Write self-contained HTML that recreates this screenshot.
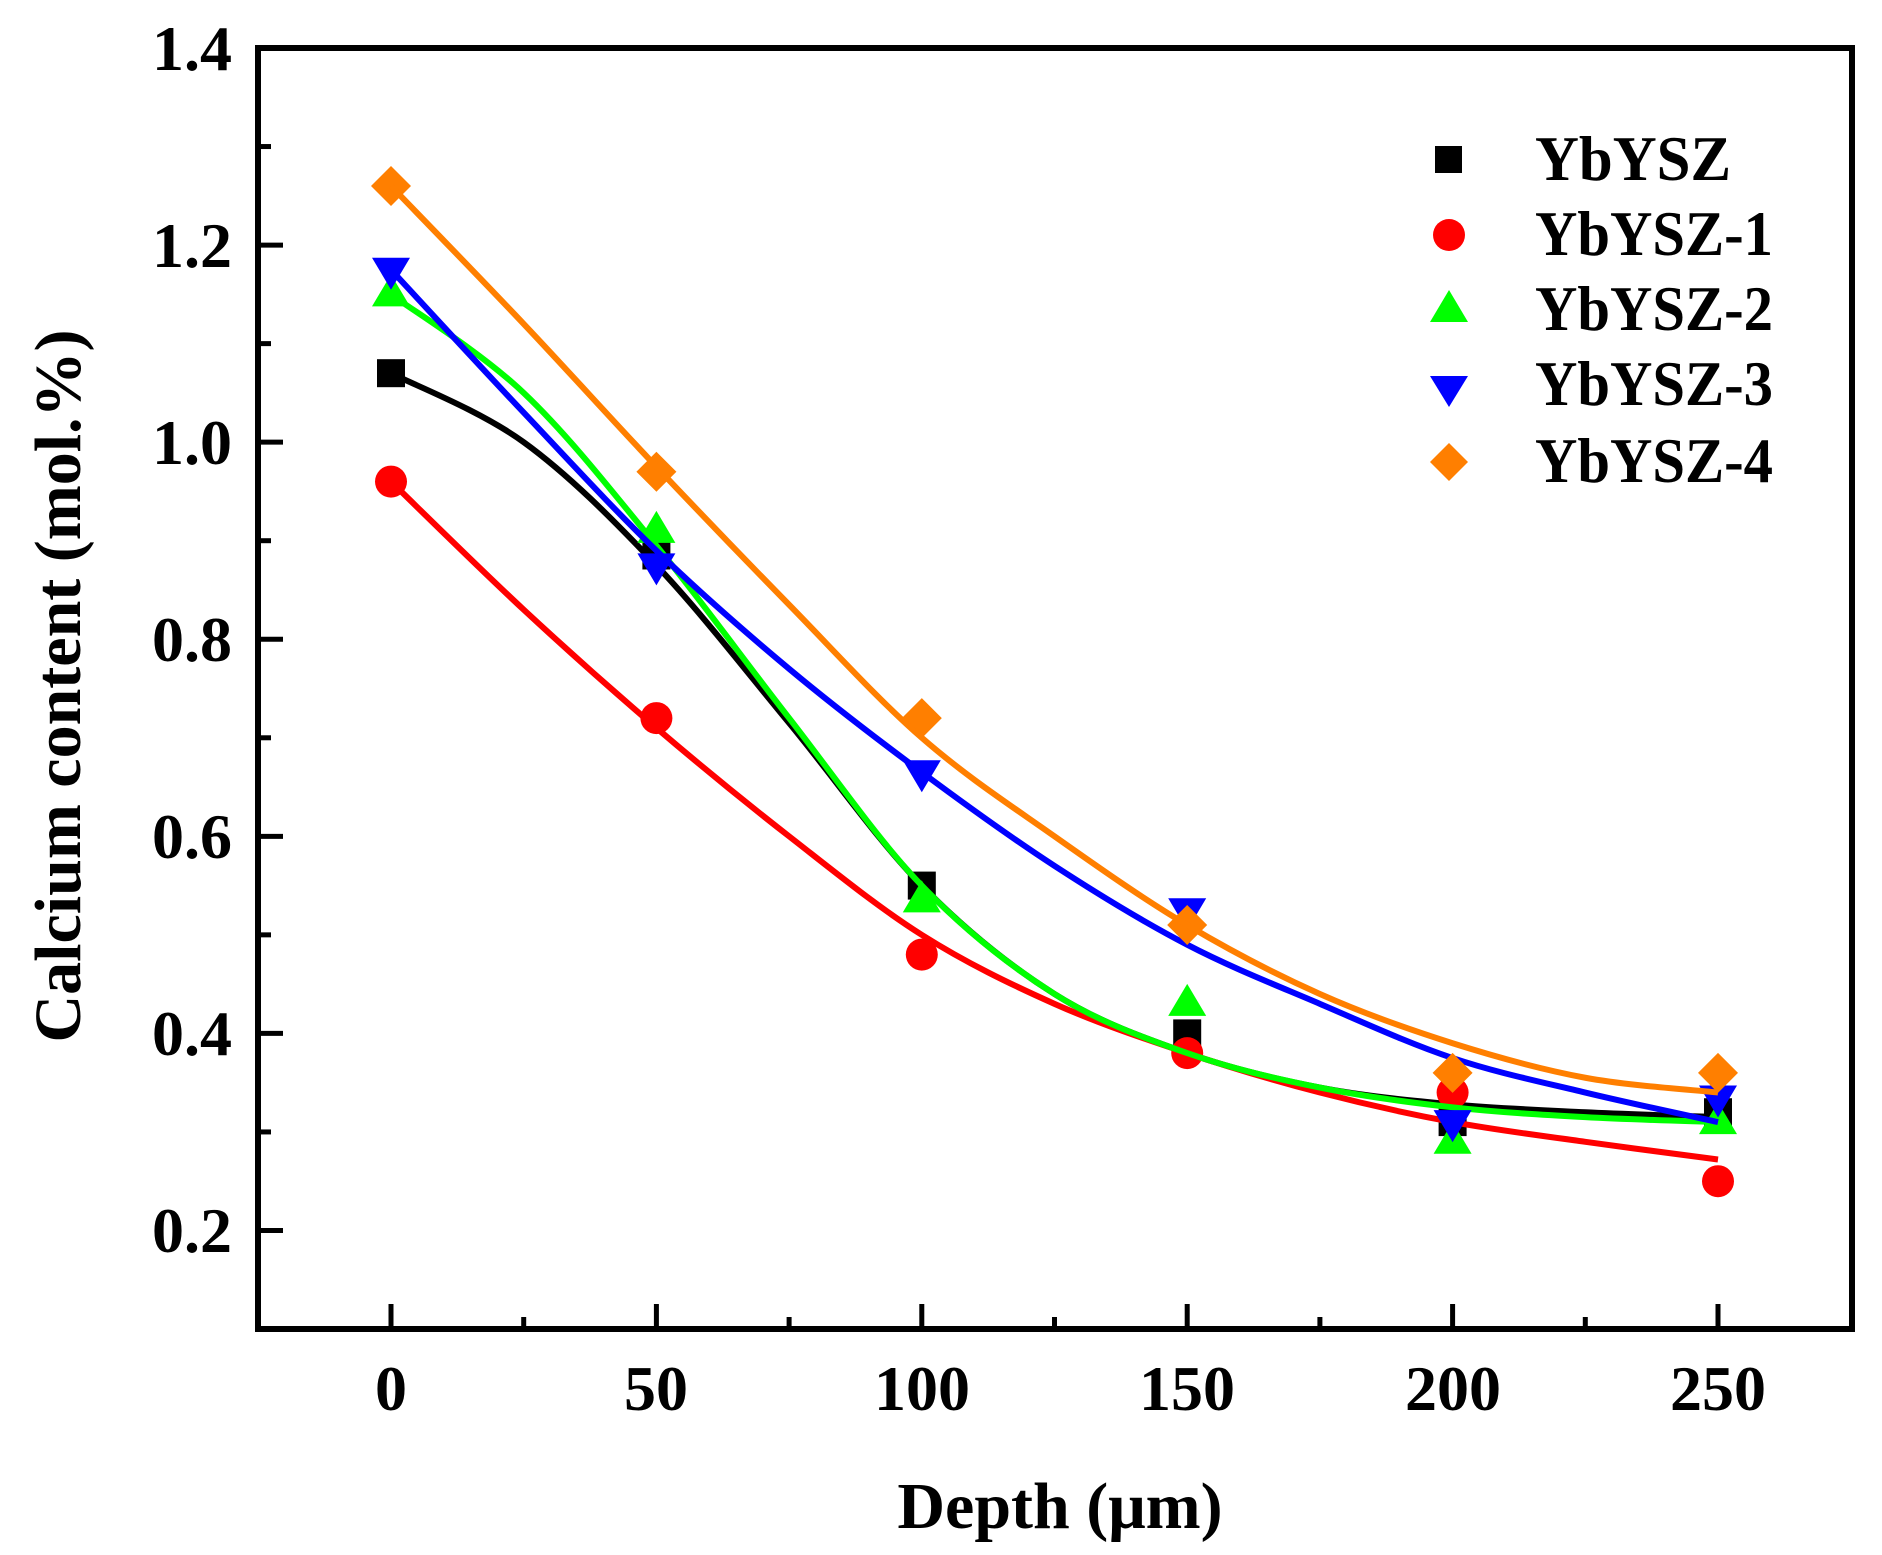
<!DOCTYPE html>
<html><head><meta charset="utf-8"><style>
html,body{margin:0;padding:0;background:#fff}
svg{display:block}
text{font-family:"Liberation Serif",serif;font-weight:bold;fill:#000}
</style></head><body>
<svg id="s" width="1882" height="1555" viewBox="0 0 1882 1555" xmlns="http://www.w3.org/2000/svg">
<rect width="1882" height="1555" fill="#fff"/>
<g id="plot"></g>
<rect x="258" y="48" width="1594" height="1281" fill="none" stroke="#000" stroke-width="6"/>
<g id="ticks" stroke="#000" stroke-width="5"></g>
<g font-size="64" text-anchor="end" id="ylab">
<text x="232" y="70">1.4</text>
<text x="232" y="267">1.2</text>
<text x="232" y="464">1.0</text>
<text x="232" y="661">0.8</text>
<text x="232" y="858">0.6</text>
<text x="232" y="1055">0.4</text>
<text x="232" y="1252">0.2</text>
</g>
<g font-size="64" text-anchor="middle">
<text x="391" y="1410">0</text>
<text x="656" y="1410">50</text>
<text x="922" y="1410">100</text>
<text x="1187" y="1410">150</text>
<text x="1453" y="1410">200</text>
<text x="1718" y="1410">250</text>
<text x="1060" y="1528" font-size="66">Depth (μm)</text>
<text transform="translate(80,686) rotate(-90)" font-size="66">Calcium content (mol.%)</text>
</g>
<g font-size="64">
<rect x="1435" y="146" width="27" height="27" fill="#000"/>
<text x="1535" y="180" textLength="196" lengthAdjust="spacingAndGlyphs">YbYSZ</text>
<circle cx="1449" cy="235" r="16" fill="#f00"/>
<text x="1535" y="255" textLength="238" lengthAdjust="spacingAndGlyphs">YbYSZ-1</text>
<polygon points="1430,322 1468,322 1449,290" fill="#0f0"/>
<text x="1535" y="330" textLength="238" lengthAdjust="spacingAndGlyphs">YbYSZ-2</text>
<polygon points="1430,376 1468,376 1449,407" fill="#00f"/>
<text x="1535" y="405" textLength="238" lengthAdjust="spacingAndGlyphs">YbYSZ-3</text>
<polygon points="1449,443 1468,462 1449,481 1430,462" fill="#ff7f00"/>
<text x="1535" y="482" textLength="238" lengthAdjust="spacingAndGlyphs">YbYSZ-4</text>
</g>
</svg>
<script>
var X=function(v){return 391+v*5.308};
var Y=function(v){return 48+(1.4-v)*985.4};
var ns="http://www.w3.org/2000/svg";
var t=document.getElementById('ticks');
function L(x1,y1,x2,y2){var e=document.createElementNS(ns,'line');e.setAttribute('x1',x1);e.setAttribute('y1',y1);e.setAttribute('x2',x2);e.setAttribute('y2',y2);t.appendChild(e);}
for(var v=0.2;v<=1.41;v+=0.2){var y=Y(v);L(258,y,283,y);}
for(var v=0.3;v<=1.31;v+=0.2){var y=Y(v);L(258,y,271,y);}
for(var d=0;d<=250;d+=50){var x=X(d);L(x,1329,x,1304);}
for(var d=25;d<=250;d+=50){var x=X(d);L(x,1329,x,1317);}
var series=[
{c:'#000',m:'sq',d:[1.07,0.885,0.55,0.40,0.31,0.32],f:[1.07,1.0,0.875,0.715,0.55,0.44,0.38,0.345,0.328,0.32,0.315]},
{c:'#f00',m:'ci',d:[0.96,0.72,0.48,0.38,0.34,0.25],f:[0.96,0.83,0.71,0.60,0.50,0.43,0.38,0.34,0.31,0.29,0.272]},
{c:'#0f0',m:'tu',d:[1.15,0.91,0.535,0.43,0.29,0.31],f:[1.15,1.05,0.895,0.72,0.55,0.44,0.38,0.345,0.325,0.315,0.31]},
{c:'#00f',m:'td',d:[1.175,0.875,0.665,0.525,0.31,0.335],f:[1.175,1.03,0.89,0.77,0.665,0.57,0.49,0.43,0.375,0.34,0.31]},
{c:'#ff7f00',m:'di',d:[1.26,0.97,0.72,0.51,0.36,0.36],f:[1.26,1.12,0.975,0.835,0.70,0.60,0.51,0.44,0.39,0.355,0.34]}
];
var g=document.getElementById('plot');
series.forEach(function(s){
 var p=s.f.map(function(v,i){return [X(i*25),Y(v)];});
 var d='M'+p[0][0]+','+p[0][1];
 for(var i=0;i<p.length-1;i++){
  var p0=p[i-1]||p[i],p1=p[i],p2=p[i+1],p3=p[i+2]||p[i+1];
  var c1=[p1[0]+(p2[0]-p0[0])/6,p1[1]+(p2[1]-p0[1])/6];
  var c2=[p2[0]-(p3[0]-p1[0])/6,p2[1]-(p3[1]-p1[1])/6];
  d+=' C'+c1+' '+c2+' '+p2;
 }
 s.d.forEach(function(v,i){
  var x=X(i*50),y=Y(v),e;
  if(s.m=='sq'){e=document.createElementNS(ns,'rect');e.setAttribute('x',x-14);e.setAttribute('y',y-14);e.setAttribute('width',28);e.setAttribute('height',28);}
  else if(s.m=='ci'){e=document.createElementNS(ns,'circle');e.setAttribute('cx',x);e.setAttribute('cy',y);e.setAttribute('r',16);}
  else{e=document.createElementNS(ns,'polygon');var pts;
   if(s.m=='tu')pts=[[x-19,y+12],[x+19,y+12],[x,y-20]];
   else if(s.m=='td')pts=[[x-19,y-12],[x+19,y-12],[x,y+20]];
   else pts=[[x,y-20],[x+20,y],[x,y+20],[x-20,y]];
   e.setAttribute('points',pts.map(function(q){return q.join(',')}).join(' '));}
  e.setAttribute('fill',s.c);g.appendChild(e);
 });
 var pa=document.createElementNS(ns,'path');pa.setAttribute('d',d);pa.setAttribute('fill','none');pa.setAttribute('stroke',s.c);pa.setAttribute('stroke-width',6);g.appendChild(pa);
});
</script>
</body></html>
